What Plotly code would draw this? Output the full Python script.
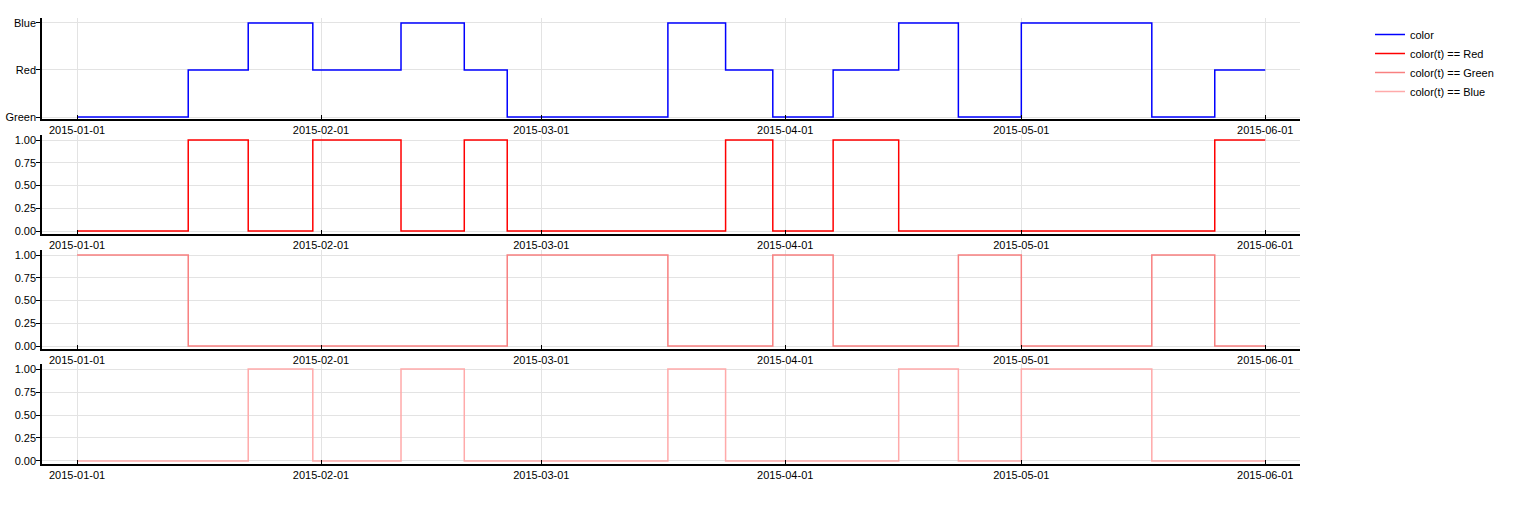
import plotly.graph_objects as go
import pandas as pd

# Change points of the categorical signal (timestamp, color from that moment on)
change_times = [
    "2015-01-01 00:00", "2015-01-15 03:00", "2015-01-22 18:00", "2015-01-30 23:00",
    "2015-02-11 04:00", "2015-02-19 05:00", "2015-02-24 16:00", "2015-03-17 02:00",
    "2015-03-24 10:00", "2015-03-30 10:00", "2015-04-07 02:00", "2015-04-15 10:00",
    "2015-04-23 00:00", "2015-05-01 00:00", "2015-05-17 14:00", "2015-05-25 14:00",
    "2015-06-01 00:00",
]
change_colors = [
    "Green", "Red", "Blue", "Red",
    "Blue", "Red", "Green", "Blue",
    "Red", "Green", "Red", "Blue",
    "Green", "Blue", "Green", "Red",
    "Red",
]
categories = ["Green", "Red", "Blue"]
indicator_names = ["Red", "Green", "Blue"]
indicator_colors = ["#ff0000", "#f88080", "#ffaaaa"]

t = pd.to_datetime(change_times)
OFF = 0  # page body margin removed via post_script
W, H = 1513, 508
FONT = "Arial, Liberation Sans, sans-serif"

def py(px):
    return 1 - (px - OFF) / H

def pxx(px):
    return (px - OFF) / W

x_domain = [pxx(42), pxx(1300)]
x_range = ["2014-12-27 13:00", "2015-06-05 10:00"]
panels = [(18, 119), (135, 234), (250, 349), (364, 464)]

fig = go.Figure()
fig.add_trace(go.Scatter(x=t, y=change_colors, mode="lines", line=dict(color="#0000ff", width=1.5, shape="hv"),
                         name="color", xaxis="x", yaxis="y"))
for i, (nm, col) in enumerate(zip(indicator_names, indicator_colors)):
    vals = [1 if c == nm else 0 for c in change_colors]
    fig.add_trace(go.Scatter(x=t, y=vals, mode="lines", line=dict(color=col, width=1.5, shape="hv"),
                             name=f"color(t) == {nm}", xaxis=f"x{i+2}", yaxis=f"y{i+2}"))

layout = dict(
    width=W, height=H, margin=dict(l=0, r=0, t=0, b=0),
    plot_bgcolor="white", paper_bgcolor="white",
    font=dict(family=FONT, size=11, color="#000"),
    showlegend=True,
    legend=dict(x=pxx(1370), y=py(20), xanchor="left", yanchor="top", font=dict(size=11),
                bgcolor="rgba(0,0,0,0)", tracegroupgap=0),
)
for i, (top, bot) in enumerate(panels):
    k = "" if i == 0 else str(i + 1)
    layout[f"xaxis{k}"] = dict(
        domain=x_domain, range=x_range, type="date", anchor=f"y{k}",
        dtick="M1", tick0="2015-01-01", tickformat="%Y-%m-%d",
        ticks="inside", ticklen=4, tickcolor="#000", showline=True, linecolor="#000", linewidth=1.5,
        showgrid=True, gridcolor="#e3e3e3", zeroline=False, automargin=False,
        tickfont=dict(size=11, color="#000"),
    )
    ydict = dict(
        domain=[py(bot), py(top)], anchor=f"x{k}",
        ticks="outside", ticklen=4, tickcolor="#000", showline=True, linecolor="#000", linewidth=1.5,
        showgrid=True, gridcolor="#e3e3e3", zeroline=False, automargin=False,
        tickfont=dict(size=11, color="#000"), ticklabelstandoff=-2,
    )
    if i == 0:
        ydict.update(type="category", categoryorder="array", categoryarray=categories,
                     range=[-0.0426, 2.106])
    else:
        ydict.update(range=[-0.033, 1.055], tickvals=[0, 0.25, 0.5, 0.75, 1.0],
                     ticktext=["0.00", "0.25", "0.50", "0.75", "1.00"])
    layout[f"yaxis{k}"] = ydict

fig.update_layout(**layout)
fig.write_html("out.html", config={"displayModeBar": False},
               post_script="document.body.style.margin='0';document.body.style.overflow='hidden';")
